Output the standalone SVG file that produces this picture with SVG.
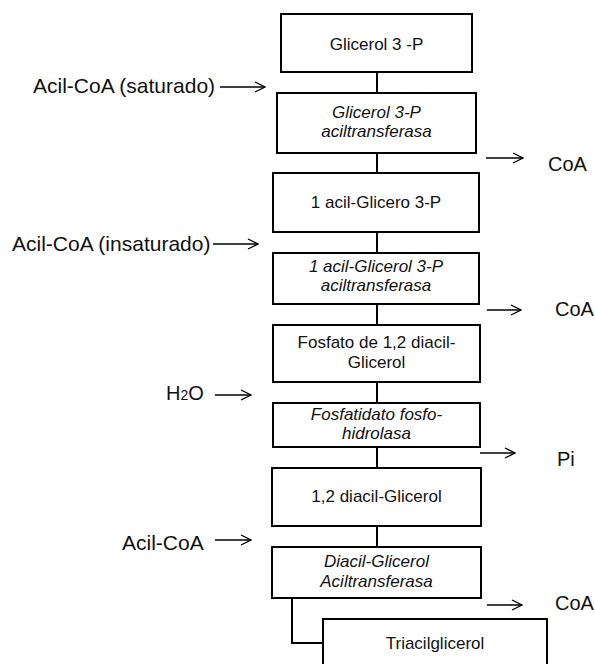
<svg xmlns="http://www.w3.org/2000/svg" width="595" height="664" viewBox="0 0 595 664">
<style>
.box{fill:#fff;stroke:#000;stroke-width:2}
.conn{fill:none;stroke:#000;stroke-width:2}
.arr{fill:none;stroke:#000;stroke-width:1.3;marker-end:url(#ah)}
.t{font-family:"Liberation Sans",Arial,sans-serif;font-size:17px;fill:#111;text-anchor:middle}
.i{font-style:italic}
.lbl{font-family:"Liberation Sans",Arial,sans-serif;font-size:20px;fill:#111}
.big{font-size:21px}
</style>
<defs>
<marker id="ah" markerWidth="12" markerHeight="12" refX="11" refY="6" orient="auto" markerUnits="userSpaceOnUse">
<path d="M1,1 L11,6 L1,11" fill="none" stroke="#000" stroke-width="1.3"/>
</marker>
</defs>
<rect width="595" height="664" fill="#fff"/>
<g id="connectors">
<path class="conn" d="M377,72V93M377,153V173M377,232V253M377,304V325M377,382V403M377,447V468M377,526V547M292,598V643H323"/>
<path class="arr" d="M220,87H265"/>
<path class="arr" d="M486,158H523"/>
<path class="arr" d="M213,244H258"/>
<path class="arr" d="M487,310H521"/>
<path class="arr" d="M215,395H251"/>
<path class="arr" d="M480,453H515"/>
<path class="arr" d="M215,540H251"/>
<path class="arr" d="M487,605H522"/>
</g>
<g id="n1"><rect class="box" x="281" y="14" width="191" height="58"/><text class="t" x="376.5" y="50">Glicerol 3 -P</text></g>
<g id="n2"><rect class="box" x="277" y="93" width="199" height="60"/><text class="t i" x="376.5" y="118">Glicerol 3-P</text><text class="t i" x="376.5" y="137">aciltransferasa</text></g>
<g id="n3"><rect class="box" x="273" y="173" width="206" height="59"/><text class="t" x="376" y="208">1 acil-Glicero 3-P</text></g>
<g id="n4"><rect class="box" x="273" y="253" width="206" height="51"/><text class="t i" x="376" y="272">1 acil-Glicerol 3-P</text><text class="t i" x="376" y="291">aciltransferasa</text></g>
<g id="n5"><rect class="box" x="273" y="325" width="207" height="57"/><text class="t" x="376.5" y="348">Fosfato de 1,2 diacil-</text><text class="t" x="376.5" y="368">Glicerol</text></g>
<g id="n6"><rect class="box" x="273" y="403" width="207" height="44"/><text class="t i" x="376.5" y="420">Fosfatidato fosfo-</text><text class="t i" x="376.5" y="439">hidrolasa</text></g>
<g id="n7"><rect class="box" x="272" y="468" width="209" height="58"/><text class="t" x="376.5" y="502">1,2 diacil-Glicerol</text></g>
<g id="n8"><rect class="box" x="272" y="547" width="209" height="51"/><text class="t i" x="376.5" y="567">Diacil-Glicerol</text><text class="t i" x="376.5" y="587">Aciltransferasa</text></g>
<g id="n9"><rect class="box" x="323" y="619" width="224" height="60"/><text class="t" x="435" y="649">Triacilglicerol</text></g>
<g id="labels">
<text class="lbl big" x="33" y="93">Acil-CoA (saturado)</text>
<text class="lbl" x="548" y="171">CoA</text>
<text class="lbl big" x="12" y="251">Acil-CoA (insaturado)</text>
<text class="lbl" x="555" y="316">CoA</text>
<text class="lbl" x="166" y="400">H<tspan font-size="14">2</tspan>O</text>
<text class="lbl" x="557" y="466">Pi</text>
<text class="lbl big" x="122" y="550">Acil-CoA</text>
<text class="lbl" x="555" y="610">CoA</text>
</g>
</svg>
